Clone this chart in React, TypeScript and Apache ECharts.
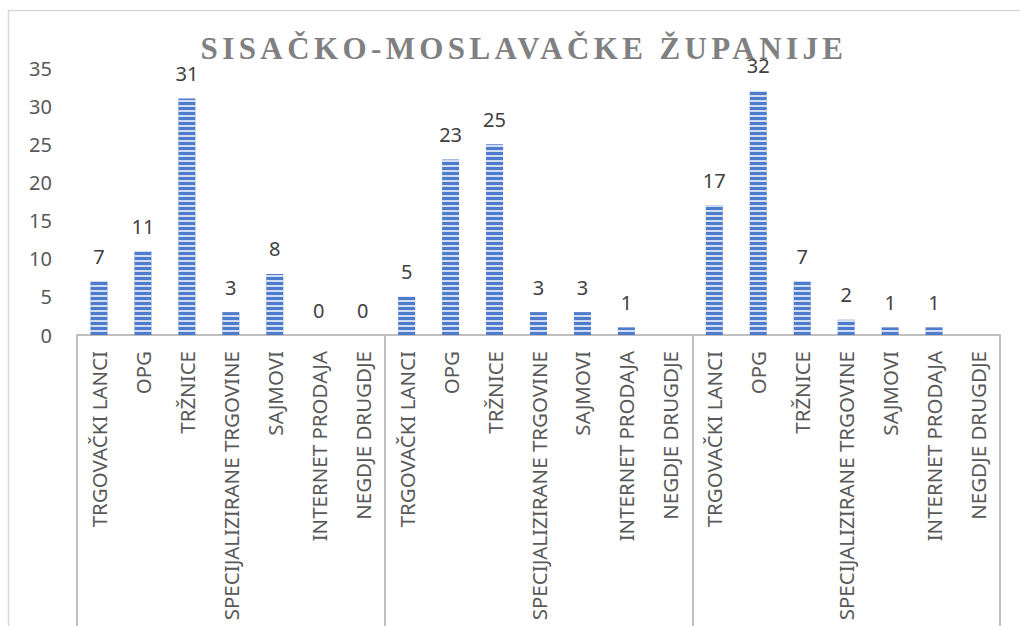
import React, { useEffect, useRef } from "react";
import * as echarts from "echarts";

const titleText = "SISAČKO-MOSLAVAČKE ŽUPANIJE";
const subCategories = [
  "TRGOVAČKI LANCI",
  "OPG",
  "TRŽNICE",
  "SPECIJALIZIRANE TRGOVINE",
  "SAJMOVI",
  "INTERNET PRODAJA",
  "NEGDJE DRUGDJE",
];
const groupNames = ["", "", ""];
const group1Values: (number | null)[] = [7, 11, 31, 3, 8, 0, 0];
const group2Values: (number | null)[] = [5, 23, 25, 3, 3, 1, null];
const group3Values: (number | null)[] = [17, 32, 7, 2, 1, 1, null];
const yTicks = { min: 0, max: 35, interval: 5 };

export default function App() {
  const ref = useRef<HTMLDivElement>(null);
  useEffect(() => {
    if (!ref.current) return;
    const chart = echarts.init(ref.current, undefined, { renderer: "svg" });
    const categories = [...subCategories, ...subCategories, ...subCategories];
    const values = [...group1Values, ...group2Values, ...group3Values];
    const axisGray = "#bfbfbf";
    const font = "Noto Sans";
    chart.setOption({
      animation: false,
      aria: { enabled: true, decal: { show: true } },
      backgroundColor: "#ffffff",
      title: {
        text: titleText,
        left: 519,
        top: 28,
        textAlign: "center",
        textStyle: {
          fontFamily: "Liberation Serif",
          fontWeight: "bold",
          fontSize: 31,
          color: "#808081",
        },
      },
      graphic: [
        {
          type: "rect",
          shape: { x: 8.5, y: 10.5, width: 1100, height: 800 },
          style: { fill: "none", stroke: "#d9d9d9", lineWidth: 1.5 },
          silent: true,
        },
      ],
      grid: { left: 77, right: 20, top: 68, bottom: 291, containLabel: false },
      xAxis: [
        {
          type: "category",
          data: categories,
          position: "bottom",
          axisLine: { show: true, lineStyle: { color: axisGray, width: 2 } },
          axisTick: { show: false },
          axisLabel: {
            interval: 0,
            rotate: 90,
            margin: 16,
            fontFamily: font,
            fontSize: 20.5,
            color: "#595959",
          },
        },
        {
          type: "category",
          data: groupNames,
          position: "bottom",
          axisLine: { show: false },
          axisTick: {
            show: true,
            interval: 0,
            length: 320,
            lineStyle: { color: axisGray, width: 2 },
          },
          axisLabel: { show: false },
        },
      ],
      yAxis: {
        type: "value",
        min: yTicks.min,
        max: yTicks.max,
        interval: yTicks.interval,
        axisLine: { show: false },
        axisTick: { show: false },
        splitLine: { show: false },
        axisLabel: {
          margin: 25,
          fontFamily: font,
          fontSize: 20,
          color: "#595959",
        },
      },
      series: [
        {
          type: "bar",
          data: values,
          barWidth: 17,
          itemStyle: {
            color: "#4e7bcc",
            decal: {
              symbol: "rect",
              symbolSize: 1,
              color: "rgba(255,255,255,0.75)",
              dashArrayX: [1, 0],
              dashArrayY: [1.5, 2.5],
              rotation: 0,
            },
          },
          label: {
            show: true,
            position: "top",
            distance: 15,
            fontFamily: font,
            fontSize: 20,
            color: "#404040",
            formatter: (p: any) => (p.value === null || p.value === undefined ? "" : String(p.value)),
          },
        },
      ],
    });
    return () => chart.dispose();
  }, []);
  return (
    <>
      <style>{`text[fill="#808081"]{letter-spacing:4.4px;}`}</style>
      <div
        ref={ref}
        style={{ position: "fixed", left: 0, top: 0, width: 1020, height: 626 }}
      />
    </>
  );
}
